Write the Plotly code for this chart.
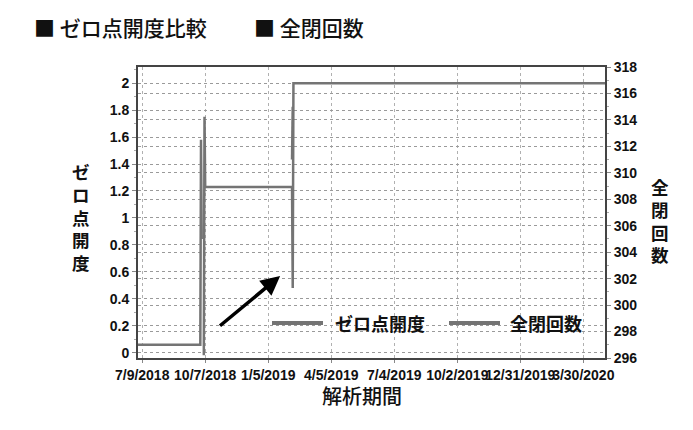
import plotly.graph_objects as go

# ---- data ----
x_tick_vals = ["2018-07-09", "2018-10-07", "2019-01-05", "2019-04-05",
               "2019-07-04", "2019-10-02", "2019-12-31", "2020-03-30"]
x_tick_text = ["7/9/2018", "10/7/2018", "1/5/2019", "4/5/2019",
               "7/4/2019", "10/2/2019", "12/31/2019", "3/30/2020"]

zero_dates = ["2018-10-05", "2018-10-06", "2018-10-07", "2019-02-08",
              "2019-02-09", "2019-02-10", "2020-04-30"]
zero_vals = [-0.02, 1.75, 1.23, 1.23, 0.48, 2.0, 2.0]

count_dates = ["2018-07-03", "2018-09-30", "2018-10-01", "2018-10-02",
               "2018-10-03", "2019-02-08", "2019-02-09"]
count_vals = [297, 297, 312.5, 305, None, 311, 315]

left_ticks = [0, 0.2, 0.4, 0.6, 0.8, 1, 1.2, 1.4, 1.6, 1.8, 2]
left_tick_text = ["0", "0.2", "0.4", "0.6", "0.8", "1", "1.2", "1.4", "1.6", "1.8", "2"]
right_ticks = list(range(296, 319, 2))

series_names = ["ゼロ点開度", "全閉回数"]
x_title = "解析期間"
titles = ["■ ゼロ点開度比較", "■ 全閉回数"]

# ---- layout constants (page pixels) ----
OFF = 8  # default body margin of the html page
W, H = 693 - 2 * OFF, 430 - 2 * OFF
L, R, T, B = 138, 605, 67, 358  # plot area in page pixels
pw, ph = R - L, B - T


def px_x(x):
    return (x - L) / pw


def px_y(y):
    return (B - y) / ph


LINE_COLOR = "#747474"
CJK = "Noto Sans CJK JP"
NUM = "Liberation Sans"

fig = go.Figure()
fig.add_trace(go.Scatter(x=zero_dates, y=zero_vals, mode="lines", name=series_names[0],
                         line=dict(color=LINE_COLOR, width=2.5), yaxis="y",
                         showlegend=False))
fig.add_trace(go.Scatter(x=count_dates, y=count_vals, mode="lines", name=series_names[1],
                         line=dict(color=LINE_COLOR, width=2.5), yaxis="y2",
                         connectgaps=False, showlegend=False))

tickfont = dict(family=NUM, size=14, color="#111", weight="bold")

fig.update_layout(
    width=W, height=H,
    margin=dict(l=L - OFF, r=(W + OFF) - R, t=T - OFF, b=(H + OFF) - B, pad=0),
    paper_bgcolor="white",
    plot_bgcolor="white",
    showlegend=False,
    xaxis=dict(
        type="date", range=["2018-07-03", "2020-04-30"],
        tickmode="array", tickvals=x_tick_vals, ticktext=x_tick_text,
        tickangle=0, tickfont=tickfont,
        showgrid=True, gridcolor="#b0b0b0", griddash="dot", gridwidth=1,
        showline=True, linecolor="#444", linewidth=2, mirror=True,
        ticks="outside", ticklen=3, tickcolor="#888",
        zeroline=False,
    ),
    yaxis=dict(
        range=[-0.04, 2.12],
        tickmode="array", tickvals=left_ticks, ticktext=left_tick_text,
        tickfont=tickfont,
        showgrid=True, gridcolor="#9a9a9a", griddash="dot", gridwidth=1,
        showline=True, linecolor="#444", linewidth=2, mirror=True,
        ticks="outside", ticklen=4, tickcolor="#888",
        minor=dict(dtick=0.1, ticks="outside", ticklen=2, tickcolor="#aaa", showgrid=False),
        zeroline=False,
    ),
    yaxis2=dict(
        range=[296, 318], overlaying="y", side="right",
        tickmode="array", tickvals=right_ticks,
        tickfont=tickfont,
        showgrid=True, gridcolor="#9a9a9a", griddash="dot", gridwidth=1,
        showline=True, linecolor="#444", linewidth=2,
        ticks="outside", ticklen=4, tickcolor="#888",
        minor=dict(dtick=1, ticks="outside", ticklen=2, tickcolor="#aaa", showgrid=False),
        zeroline=False,
    ),
)

annotations = []

# titles at top
for tx, text in zip([32, 252], titles):
    annotations.append(dict(text=text, xref="paper", yref="paper",
                            x=px_x(tx), y=px_y(27), xanchor="left", yanchor="middle",
                            showarrow=False,
                            font=dict(family=CJK, size=21, color="#111", weight=500)))

# stacked (vertical) axis titles
annotations.append(dict(text="<br>".join(series_names[0]), xref="paper", yref="paper",
                        x=px_x(81), y=px_y(217), xanchor="center", yanchor="middle",
                        showarrow=False,
                        font=dict(family=CJK, size=17.5, color="#111", weight="bold")))
annotations.append(dict(text="<br>".join(series_names[1]), xref="paper", yref="paper",
                        x=px_x(660), y=px_y(220), xanchor="center", yanchor="middle",
                        showarrow=False,
                        font=dict(family=CJK, size=17.5, color="#111", weight="bold")))

# x axis title
annotations.append(dict(text=x_title, xref="paper", yref="paper",
                        x=px_x(362), y=px_y(395), xanchor="center", yanchor="middle",
                        showarrow=False,
                        font=dict(family=CJK, size=20, color="#111", weight=500)))

# manual legend inside the plot
legend_items = [(272, 323, 333, series_names[0]), (449, 500, 508, series_names[1])]
shapes = []
for x0, x1, tx, name in legend_items:
    shapes.append(dict(type="line", xref="paper", yref="paper",
                       x0=px_x(x0), x1=px_x(x1), y0=px_y(323), y1=px_y(323),
                       line=dict(color=LINE_COLOR, width=4)))
    annotations.append(dict(text=name, xref="paper", yref="paper",
                            x=px_x(tx), y=px_y(323), xanchor="left", yanchor="middle",
                            showarrow=False,
                            font=dict(family=CJK, size=18, color="#111", weight="bold")))

# arrow annotation
annotations.append(dict(x="2019-01-22", y=0.569, ax="2018-10-26", ay=0.19,
                        xref="x", yref="y", axref="x", ayref="y",
                        text="", showarrow=True, arrowhead=2, arrowsize=1.1,
                        arrowwidth=3.5, arrowcolor="#000", standoff=0))

fig.update_layout(annotations=annotations, shapes=shapes)

fig.write_html("out.html")
